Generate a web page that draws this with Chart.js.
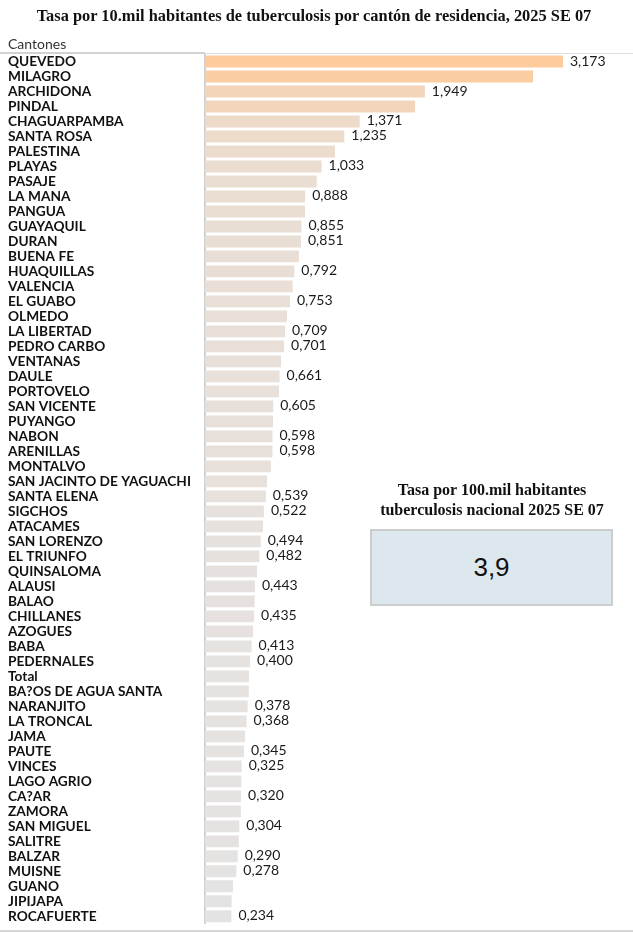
<!DOCTYPE html>
<html>
<head>
<meta charset="utf-8">
<script src="https://cdn.jsdelivr.net/npm/chart.js@4.4.1/dist/chart.umd.min.js"></script>
<style>
  html, body { margin: 0; padding: 0; background: #fff; }
  #wrap { position: relative; width: 633px; height: 932px; overflow: hidden; }
  #c { position: absolute; left: 0; top: 0; }
  .title { position: absolute; left: 0; top: 6px; width: 628px; text-align: center;
           font-family: "Liberation Serif", "DejaVu Serif", serif; font-weight: bold; font-size: 16.4px; color: #111; }
  .hdr { position: absolute; left: 8px; top: 35px; font-family: Lato, "Noto Sans", sans-serif; font-size: 14px; color: #333; }
  .kpiT { position: absolute; left: 362px; top: 480px; width: 260px; text-align: center; line-height: 20px;
          font-family: "Liberation Serif", "DejaVu Serif", serif; font-weight: bold; font-size: 16px; color: #111; }
  .kpi { position: absolute; left: 370px; top: 529px; width: 239px; height: 73px; background: #DDE8EE;
         border: 2px solid #CDCDCD; display: flex; align-items: center; justify-content: center;
         font-family: "Liberation Sans", Arial, sans-serif; font-size: 26px; color: #111; }
</style>
</head>
<body>
<div id="wrap">
  <canvas id="c" width="633" height="932"></canvas>
  <div class="title">Tasa por 10.mil habitantes de tuberculosis por cantón de residencia, 2025 SE 07</div>
  <div class="hdr">Cantones</div>
  <div class="kpiT">Tasa por 100.mil habitantes<br>tuberculosis nacional 2025 SE 07</div>
  <div class="kpi" id="kpi"></div>
</div>
<script>
const cantones = ["QUEVEDO","MILAGRO","ARCHIDONA","PINDAL","CHAGUARPAMBA","SANTA ROSA","PALESTINA","PLAYAS","PASAJE","LA MANA",
  "PANGUA","GUAYAQUIL","DURAN","BUENA FE","HUAQUILLAS","VALENCIA","EL GUABO","OLMEDO","LA LIBERTAD","PEDRO CARBO",
  "VENTANAS","DAULE","PORTOVELO","SAN VICENTE","PUYANGO","NABON","ARENILLAS","MONTALVO","SAN JACINTO DE YAGUACHI","SANTA ELENA",
  "SIGCHOS","ATACAMES","SAN LORENZO","EL TRIUNFO","QUINSALOMA","ALAUSI","BALAO","CHILLANES","AZOGUES","BABA",
  "PEDERNALES","Total","BA?OS DE AGUA SANTA","NARANJITO","LA TRONCAL","JAMA","PAUTE","VINCES","LAGO AGRIO","CA?AR",
  "ZAMORA","SAN MIGUEL","SALITRE","BALZAR","MUISNE","GUANO","JIPIJAPA","ROCAFUERTE"];
const tasas = [3.173,2.908,1.949,1.862,1.371,1.235,1.152,1.033,0.990,0.888,
  0.886,0.855,0.851,0.833,0.792,0.777,0.753,0.727,0.709,0.701,
  0.674,0.661,0.656,0.605,0.603,0.598,0.598,0.585,0.550,0.539,
  0.522,0.514,0.494,0.482,0.461,0.443,0.440,0.435,0.426,0.413,
  0.400,0.390,0.388,0.378,0.368,0.355,0.345,0.325,0.322,0.320,
  0.318,0.304,0.300,0.290,0.278,0.248,0.236,0.234];
const conEtiqueta = [1,0,1,0,1,1,0,1,0,1,
  0,1,1,0,1,0,1,0,1,1,
  0,1,0,1,0,1,1,0,0,1,
  1,0,1,1,0,1,0,1,0,1,
  1,0,0,1,1,0,1,1,0,1,
  0,1,0,1,1,0,0,1];
const tasaNacional = "3,9";

document.getElementById('kpi').textContent = tasaNacional;

function fmt(v){ return v.toFixed(3).replace('.', ','); }
const vmin = Math.min(...tasas), vmax = Math.max(...tasas);
function colorFor(v){
  const t = (v - vmin) / (vmax - vmin);
  const g = [228,227,227], o = [253,203,156];
  const c = g.map((x,i)=>Math.round(x + t*(o[i]-x)));
  return `rgb(${c[0]},${c[1]},${c[2]})`;
}

const decor = {
  id: 'decor',
  afterDraw(chart){
    const ctx = chart.ctx, ca = chart.chartArea;
    ctx.save();
    ctx.fillStyle = '#D2D2D2';
    ctx.fillRect(0, 52, ca.left, 2);
    ctx.fillStyle = '#DEDEDE';
    ctx.fillRect(ca.left, 53, chart.width - ca.left, 1);
    ctx.fillStyle = '#D6D6D6';
    ctx.fillRect(0, 930, chart.width, 2);
    const meta = chart.getDatasetMeta(0);
    ctx.font = '14px Lato, "Noto Sans", sans-serif';
    ctx.fillStyle = '#1a1a1a';
    ctx.textBaseline = 'middle';
    ctx.textAlign = 'left';
    meta.data.forEach((bar, i) => {
      if (conEtiqueta[i]) ctx.fillText(fmt(tasas[i]), bar.x + 7, bar.y - 0.5);
    });
    ctx.restore();
  }
};

new Chart(document.getElementById('c'), {
  type: 'bar',
  data: {
    labels: cantones,
    datasets: [{
      data: tasas,
      backgroundColor: tasas.map(colorFor),
      borderWidth: 0,
      barPercentage: 0.79,
      categoryPercentage: 1.0
    }]
  },
  options: {
    indexAxis: 'y',
    responsive: false,
    animation: false,
    devicePixelRatio: 1,
    layout: { padding: { left: 8, top: 54, right: 0, bottom: 2 } },
    plugins: { legend: { display: false }, tooltip: { enabled: false }, title: { display: false } },
    scales: {
      x: {
        min: 0, max: 3.794,
        display: false,
        grid: { display: false }
      },
      y: {
        afterFit(scale){ scale.width = 197; },
        grid: { display: false },
        border: { display: true, color: '#D0D0D0', width: 2 },
        ticks: {
          autoSkip: false,
          crossAlign: 'far',
          padding: 0,
          color: '#111',
          font: { family: 'Lato, "Noto Sans", sans-serif', size: 13.7, weight: 'bold' }
        }
      }
    }
  },
  plugins: [decor]
});
</script>
</body>
</html>
